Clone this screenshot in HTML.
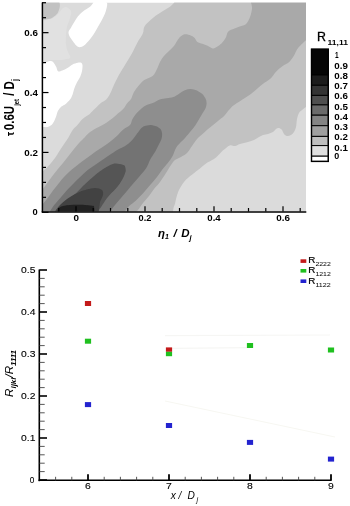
<!DOCTYPE html>
<html><head><meta charset="utf-8"><style>
html,body{margin:0;padding:0;background:#fff;}
svg{display:block;will-change:transform;font-family:"Liberation Sans",sans-serif;}
</style></head><body>
<svg width="350" height="506" viewBox="0 0 350 506">
<rect width="350" height="506" fill="#fff"/>
<defs><clipPath id="pc"><rect x="42" y="2.5" width="264" height="209"/></clipPath><filter id="bl" x="0" y="0" width="1" height="1"><feGaussianBlur stdDeviation="0.7"/></filter></defs><g clip-path="url(#pc)"><g filter="url(#bl)"><rect x="42" y="2.5" width="264" height="209.0" fill="#dbdbdb"/><path d="M174.3,2.5 C173.4,3.4 171.3,5.8 168.8,7.6 C166.3,9.4 162.3,11.3 159.5,13.2 C156.7,15.0 154.5,16.5 152.0,18.7 C149.5,20.9 146.1,23.7 144.6,26.2 C143.1,28.7 144.0,30.8 142.8,33.6 C141.6,36.4 139.1,39.5 137.2,42.9 C135.3,46.3 133.5,50.6 131.6,54.0 C129.7,57.4 127.9,60.2 126.0,63.3 C124.1,66.4 121.8,70.2 120.4,72.6 C119.0,75.0 118.5,75.9 117.4,77.9 C116.3,79.9 115.1,82.2 114.0,84.7 C112.9,87.2 111.7,90.5 110.6,92.7 C109.5,94.9 108.5,96.7 107.5,98.0 C106.5,99.3 106.1,99.6 104.9,100.5 C103.7,101.4 102.0,102.0 100.3,103.4 C98.6,104.8 96.3,107.4 94.6,109.1 C92.9,110.8 91.3,112.5 90.0,113.7 C88.7,114.9 87.9,115.0 86.6,116.0 C85.3,117.0 83.5,117.9 82.0,119.4 C80.5,120.9 78.9,123.4 77.4,125.1 C75.9,126.8 74.4,127.6 72.9,129.7 C71.4,131.8 69.8,135.2 68.3,137.7 C66.8,140.2 65.2,142.3 63.7,144.6 C62.2,146.9 60.6,149.2 59.1,151.4 C57.6,153.6 56.4,156.1 55.0,158.0 C53.6,159.9 52.5,161.2 51.0,163.0 C49.5,164.8 47.5,167.0 46.0,168.5 C44.5,170.0 42.7,171.4 42.0,172.0 L30.0,180.0 L30.0,225.0 L173.0,225.0 L173.0,211.5 C173.1,210.8 173.4,208.6 173.7,207.3 C174.0,206.0 174.5,205.4 175.0,203.7 C175.5,201.9 175.9,199.1 176.6,196.8 C177.3,194.5 177.8,192.4 179.0,190.0 C180.2,187.6 182.3,184.3 184.0,182.1 C185.7,179.9 187.1,178.7 189.0,177.0 C190.9,175.3 193.6,173.3 195.4,171.9 C197.2,170.5 198.0,170.0 200.0,168.4 C202.0,166.8 204.7,164.4 207.4,162.6 C210.1,160.8 213.4,159.4 216.0,157.4 C218.6,155.4 220.5,152.6 222.8,150.6 C225.1,148.6 227.7,146.2 229.7,145.4 C231.7,144.6 233.3,146.2 235.0,146.0 C236.7,145.8 237.8,144.7 240.0,144.0 C242.2,143.3 245.7,142.7 248.0,142.0 C250.3,141.3 252.2,140.8 254.0,140.0 C255.8,139.2 257.5,137.8 259.0,137.0 C260.5,136.2 261.5,135.5 263.0,135.0 C264.5,134.5 266.3,134.5 268.0,134.0 C269.7,133.5 271.7,132.8 273.0,132.0 C274.3,131.2 275.0,129.7 276.0,129.0 C277.0,128.3 278.0,127.8 279.0,128.0 C280.0,128.2 281.2,129.0 282.0,130.0 C282.8,131.0 283.2,133.0 284.0,134.0 C284.8,135.0 285.8,135.8 287.0,136.0 C288.2,136.2 289.8,135.7 291.0,135.0 C292.2,134.3 293.2,133.3 294.0,132.0 C294.8,130.7 295.5,129.2 296.0,127.0 C296.5,124.8 296.5,121.3 297.0,119.0 C297.5,116.7 298.2,114.5 299.0,113.0 C299.8,111.5 300.8,111.0 302.0,110.0 C303.2,109.0 305.3,107.5 306.0,107.0 L320.0,107.0 L320.0,-5.0 L174.3,-5.0Z" fill="#c2c2c2"/><path d="M42.0,21.0 C42.8,20.8 45.2,20.5 47.0,20.0 C48.8,19.5 51.2,19.0 53.0,18.0 C54.8,17.0 56.5,15.5 58.0,14.0 C59.5,12.5 60.7,10.2 62.0,9.0 C63.3,7.8 64.5,6.7 66.0,7.0 C67.5,7.3 70.3,9.2 71.0,11.0 C71.7,12.8 70.7,15.3 70.0,18.0 C69.3,20.7 67.7,24.2 67.0,27.0 C66.3,29.8 66.2,32.0 66.0,35.0 C65.8,38.0 65.7,42.2 66.0,45.0 C66.3,47.8 67.3,49.8 68.0,52.0 C68.7,54.2 71.3,56.7 70.0,58.0 C68.7,59.3 63.0,59.7 60.0,60.0 C57.0,60.3 54.3,59.8 52.0,60.0 C49.7,60.2 47.7,60.5 46.0,61.0 C44.3,61.5 42.7,62.7 42.0,63.0 L30.0,63.0 L30.0,21.0Z" fill="#e1e1e1"/><path d="M59.4,2.5 C59.5,2.9 59.9,4.1 59.9,5.1 C59.9,6.1 59.8,7.3 59.4,8.6 C59.0,9.9 58.6,11.6 57.7,12.9 C56.9,14.2 55.4,15.4 54.3,16.3 C53.2,17.2 52.2,17.9 50.9,18.4 C49.6,18.9 48.1,19.1 46.6,19.3 C45.1,19.5 42.8,19.6 42.0,19.7 L30.0,19.7 L30.0,-5.0 L59.4,-5.0Z" fill="#c2c2c2"/><path d="M93.4,2.5 C93.0,3.1 91.9,5.0 90.9,6.0 C89.9,7.0 88.8,7.6 87.4,8.6 C86.0,9.6 83.9,10.7 82.3,12.0 C80.7,13.3 79.3,14.7 78.0,16.3 C76.7,17.9 75.8,19.5 74.6,21.4 C73.4,23.2 72.1,25.7 71.1,27.4 C70.1,29.1 68.9,30.3 68.6,31.7 C68.3,33.1 68.7,34.4 69.4,36.0 C70.1,37.6 71.8,39.6 72.9,41.2 C74.1,42.8 75.2,44.5 76.3,45.5 C77.4,46.5 78.4,47.2 79.7,47.2 C81.0,47.2 82.6,46.5 84.0,45.5 C85.4,44.5 87.0,42.6 88.3,41.2 C89.6,39.8 90.5,38.5 91.7,36.9 C92.9,35.3 94.1,33.6 95.2,31.7 C96.3,29.8 97.5,27.7 98.6,25.7 C99.7,23.7 101.0,21.7 102.0,19.7 C103.0,17.7 104.1,15.7 104.9,13.7 C105.7,11.7 106.3,9.4 106.7,7.7 C107.1,6.0 107.3,4.3 107.2,3.4 C107.1,2.5 106.5,2.6 106.3,2.5 L106.3,-5.0 L93.4,-5.0Z" fill="#ffffff"/><path d="M42.0,64.0 C42.2,63.9 42.6,64.0 43.4,63.6 C44.2,63.2 45.6,62.3 46.9,61.9 C48.2,61.5 50.0,60.9 51.1,61.0 C52.2,61.1 52.8,61.7 53.7,62.7 C54.6,63.7 55.6,65.6 56.3,67.0 C57.0,68.4 57.0,70.7 58.0,71.3 C59.0,71.9 60.7,71.0 62.3,70.4 C63.9,69.8 65.7,68.9 67.4,67.9 C69.1,66.9 70.9,65.3 72.6,64.4 C74.3,63.5 76.3,63.0 77.7,62.7 C79.1,62.4 80.4,62.3 81.2,62.7 C82.0,63.1 82.4,63.9 82.5,65.3 C82.6,66.7 82.4,69.4 82.0,71.3 C81.6,73.2 81.1,74.6 80.3,76.4 C79.5,78.2 77.9,80.4 76.9,82.4 C75.9,84.4 75.0,86.4 74.3,88.4 C73.6,90.4 73.3,92.6 72.6,94.5 C71.9,96.4 71.2,98.0 70.0,99.6 C68.8,101.2 67.1,102.8 65.7,103.9 C64.3,105.1 62.7,105.4 61.4,106.5 C60.1,107.6 58.9,109.1 58.0,110.7 C57.1,112.3 57.0,114.0 56.3,115.9 C55.6,117.8 54.6,120.3 53.7,121.9 C52.8,123.5 52.1,124.5 51.1,125.3 C50.1,126.1 49.0,126.7 47.7,127.0 C46.4,127.3 44.4,127.0 43.4,127.0 C42.4,127.0 42.2,127.0 42.0,127.0 L30.0,127.0 L30.0,64.0Z" fill="#ffffff"/><path d="M251.0,2.5 C251.2,3.5 252.2,6.1 252.0,8.5 C251.8,10.9 251.0,14.4 250.0,17.0 C249.0,19.6 247.8,22.4 246.1,24.0 C244.4,25.6 241.8,25.8 239.7,26.6 C237.6,27.5 235.2,28.2 233.3,29.1 C231.4,30.0 229.4,30.2 228.1,31.7 C226.8,33.2 226.7,36.2 225.6,38.1 C224.5,40.0 223.2,41.8 221.7,43.3 C220.2,44.8 218.1,46.2 216.6,47.1 C215.1,48.0 214.2,48.6 212.7,48.4 C211.2,48.2 209.3,46.6 207.6,45.8 C205.9,45.0 204.1,44.4 202.4,43.8 C200.7,43.2 198.6,43.0 197.3,42.0 C196.0,41.0 195.8,39.2 194.7,38.1 C193.6,37.0 192.3,36.2 190.8,35.6 C189.3,35.0 187.2,34.3 185.7,34.3 C184.2,34.3 183.2,34.8 181.9,35.6 C180.6,36.5 179.3,37.7 178.0,39.4 C176.7,41.1 175.6,43.9 174.1,45.8 C172.6,47.7 170.7,49.3 169.0,51.0 C167.3,52.7 165.4,54.3 163.9,56.1 C162.4,57.9 161.2,59.9 160.0,62.0 C158.8,64.2 158.2,66.7 157.0,69.0 C155.8,71.3 155.0,73.9 152.9,75.7 C150.8,77.5 146.7,78.3 144.3,80.0 C141.9,81.7 140.3,83.7 138.6,85.7 C136.9,87.7 135.3,89.8 134.0,92.0 C132.7,94.2 132.2,97.1 131.0,99.0 C129.8,100.9 128.3,101.8 127.0,103.5 C125.7,105.2 124.9,107.2 123.1,109.1 C121.3,111.0 118.6,113.0 116.3,114.9 C114.0,116.8 111.7,118.9 109.4,120.6 C107.1,122.3 104.9,123.8 102.6,125.1 C100.3,126.4 98.0,127.3 95.7,128.6 C93.4,129.9 90.8,131.6 88.9,133.1 C87.0,134.6 85.8,136.2 84.3,137.7 C82.8,139.2 81.4,140.4 79.7,142.3 C78.0,144.2 75.9,146.7 74.0,149.0 C72.1,151.3 70.3,153.7 68.5,156.0 C66.7,158.3 64.8,160.8 63.0,163.0 C61.2,165.2 59.3,167.2 57.5,169.5 C55.7,171.8 53.8,174.2 52.0,176.5 C50.2,178.8 48.7,181.2 47.0,183.5 C45.3,185.8 42.8,188.9 42.0,190.0 L30.0,190.0 L30.0,225.0 L136.0,225.0 L136.0,211.5 C136.3,211.2 136.8,211.4 138.0,210.0 C139.2,208.6 141.2,205.3 143.0,203.0 C144.8,200.7 147.2,198.3 149.0,196.0 C150.8,193.7 152.2,191.3 154.0,189.0 C155.8,186.7 158.0,184.7 160.0,182.0 C162.0,179.3 164.2,175.8 166.0,173.0 C167.8,170.2 169.5,167.2 171.0,165.0 C172.5,162.8 173.3,161.3 175.0,160.0 C176.7,158.7 179.0,158.2 181.0,157.0 C183.0,155.8 185.2,154.8 187.0,153.0 C188.8,151.2 190.3,148.3 192.0,146.0 C193.7,143.7 195.1,141.2 197.0,139.0 C198.9,136.8 201.4,134.9 203.7,132.9 C206.0,130.9 208.3,129.0 210.6,127.1 C212.9,125.2 215.1,123.3 217.4,121.4 C219.7,119.5 222.4,117.6 224.3,115.7 C226.2,113.8 227.4,111.7 228.9,110.0 C230.4,108.3 231.5,106.9 233.4,105.4 C235.3,103.9 237.6,102.6 240.3,100.9 C243.0,99.2 246.7,97.0 249.4,95.1 C252.1,93.2 254.0,91.3 256.3,89.4 C258.6,87.5 260.8,85.4 263.1,83.7 C265.4,82.0 267.8,81.1 270.0,79.1 C272.2,77.0 274.1,73.6 276.3,71.4 C278.5,69.2 281.0,67.2 283.1,65.7 C285.2,64.2 287.2,63.8 288.9,62.3 C290.6,60.8 292.1,58.7 293.4,56.6 C294.7,54.5 295.9,51.4 296.9,49.7 C297.9,48.0 298.3,47.7 299.4,46.5 C300.5,45.3 302.6,43.3 303.7,42.3 C304.8,41.2 305.6,40.6 306.0,40.2 L320.0,40.2 L320.0,-5.0 L251.0,-5.0Z" fill="#a9a9a9"/><path d="M196.3,90.3 C195.4,90.1 192.5,89.1 190.6,89.1 C188.7,89.1 186.8,89.5 184.9,90.3 C183.0,91.1 181.0,92.6 179.1,93.7 C177.2,94.8 175.5,96.3 173.4,97.1 C171.3,97.9 168.9,97.9 166.6,98.3 C164.3,98.7 162.0,98.6 159.7,99.4 C157.4,100.2 155.1,102.0 152.9,102.9 C150.7,103.8 148.5,104.1 146.6,105.0 C144.7,105.9 143.2,107.0 141.5,108.4 C139.8,109.8 137.8,111.8 136.3,113.6 C134.8,115.4 133.6,117.1 132.5,119.0 C131.4,120.9 131.6,123.3 130.0,125.1 C128.4,126.9 125.4,127.8 123.1,129.7 C120.8,131.6 118.6,134.5 116.3,136.6 C114.0,138.7 111.7,140.6 109.4,142.3 C107.1,144.0 104.9,145.4 102.6,146.9 C100.3,148.4 98.0,149.8 95.7,151.4 C93.4,153.0 91.3,154.8 89.0,156.5 C86.7,158.2 84.3,159.8 82.0,161.5 C79.7,163.2 77.2,165.2 75.0,167.0 C72.8,168.8 70.8,170.3 69.0,172.0 C67.2,173.7 65.7,175.2 64.0,177.0 C62.3,178.8 60.8,180.8 59.0,183.0 C57.2,185.2 55.3,187.5 53.4,190.0 C51.5,192.5 49.6,195.5 47.7,198.0 C45.8,200.5 43.0,203.8 42.0,204.9 L30.0,205.0 L30.0,225.0 L125.0,225.0 L125.0,211.5 C125.7,210.6 127.3,207.9 129.1,206.1 C130.9,204.2 133.7,202.5 136.0,200.4 C138.3,198.3 140.6,196.1 142.9,193.6 C145.2,191.1 147.4,188.3 149.7,185.6 C152.0,182.9 154.5,180.3 156.6,177.6 C158.7,174.9 160.4,172.1 162.3,169.6 C164.2,167.1 166.3,165.0 168.0,162.7 C169.7,160.4 171.3,158.3 172.6,155.9 C173.9,153.5 174.8,150.2 176.0,148.0 C177.2,145.8 178.5,144.7 180.0,143.0 C181.5,141.3 183.1,140.2 185.0,138.0 C186.9,135.8 190.0,132.1 191.7,130.0 C193.4,128.0 193.9,127.4 195.1,125.7 C196.2,124.0 197.4,121.9 198.6,120.0 C199.8,118.1 200.9,116.2 202.0,114.3 C203.1,112.4 204.6,110.5 205.4,108.6 C206.2,106.7 206.6,104.6 206.6,102.9 C206.6,101.2 206.2,99.8 205.4,98.3 C204.6,96.8 203.5,95.0 202.0,93.7 C200.5,92.4 197.2,90.9 196.3,90.3Z" fill="#8e8e8e"/><path d="M151.4,125.0 C150.4,125.1 147.4,125.2 145.7,125.7 C144.0,126.2 142.8,126.6 141.4,127.9 C140.0,129.2 138.5,131.7 137.1,133.6 C135.7,135.5 134.3,137.6 132.9,139.3 C131.5,141.0 130.0,142.4 128.6,143.6 C127.2,144.8 125.9,145.5 124.3,146.4 C122.7,147.3 121.2,147.7 119.0,149.0 C116.8,150.3 113.7,152.2 111.0,154.0 C108.3,155.8 105.7,157.7 103.0,159.5 C100.3,161.3 97.5,163.2 95.0,165.0 C92.5,166.8 90.0,168.1 87.7,170.0 C85.4,171.9 83.2,174.1 80.9,176.3 C78.6,178.5 76.3,180.8 74.0,183.1 C71.7,185.4 69.4,187.5 67.1,190.0 C64.8,192.5 62.6,195.3 60.3,198.0 C58.0,200.7 55.1,203.8 53.4,206.0 C51.7,208.2 50.6,210.6 50.0,211.5 L50.0,225.0 L110.0,225.0 L110.0,211.5 C110.8,210.4 113.2,207.2 115.0,205.0 C116.8,202.8 119.0,200.3 121.0,198.0 C123.0,195.7 124.9,193.5 127.0,191.0 C129.1,188.5 131.4,185.7 133.7,183.0 C136.0,180.3 138.5,177.5 140.6,175.0 C142.7,172.5 144.7,170.5 146.3,168.0 C147.9,165.5 148.9,162.2 150.0,160.0 C151.1,157.8 152.1,156.6 153.0,155.0 C153.9,153.4 154.8,152.4 155.7,150.7 C156.6,149.0 157.6,146.9 158.6,145.0 C159.6,143.1 160.8,141.2 161.4,139.3 C162.0,137.4 162.2,135.3 162.1,133.6 C162.0,131.9 161.5,130.5 160.7,129.3 C159.9,128.1 157.7,126.9 157.1,126.4Z" fill="#737373"/><path d="M124.9,165.7 C124.0,165.4 121.7,164.3 119.7,164.0 C117.7,163.7 115.5,163.2 112.9,164.0 C110.3,164.8 106.7,166.9 104.0,168.5 C101.3,170.1 99.3,171.7 97.0,173.5 C94.7,175.3 92.3,177.4 90.0,179.5 C87.7,181.6 85.3,183.8 83.0,186.0 C80.7,188.2 78.6,190.7 76.3,193.0 C74.0,195.3 71.5,197.8 69.4,200.0 C67.4,202.2 65.6,204.6 64.0,206.0 C62.4,207.4 61.0,207.8 60.0,208.5 C59.0,209.2 58.5,209.5 58.0,210.0 C57.5,210.5 57.2,211.2 57.0,211.5 L57.0,225.0 L97.4,225.0 L97.4,211.5 C97.8,211.0 99.0,209.9 100.0,208.6 C101.0,207.3 102.2,205.2 103.4,203.5 C104.6,201.8 105.6,200.0 106.9,198.3 C108.2,196.6 109.8,194.8 111.2,193.2 C112.6,191.6 114.1,190.5 115.5,188.9 C116.9,187.3 118.4,185.6 119.7,183.7 C121.0,181.8 122.2,179.8 123.2,177.7 C124.2,175.6 125.4,172.9 125.7,170.9 C126.0,168.9 125.0,166.6 124.9,165.7Z" fill="#555555"/><path d="M55.0,211.5 C55.8,210.4 58.0,207.1 60.0,205.0 C62.0,202.9 64.5,200.8 67.0,199.0 C69.5,197.2 72.0,195.5 75.0,194.0 C78.0,192.5 81.7,191.0 85.0,190.0 C88.3,189.0 92.2,188.0 95.0,188.0 C97.8,188.0 100.7,188.8 102.0,190.0 C103.3,191.2 103.3,193.0 103.0,195.0 C102.7,197.0 100.5,200.8 100.0,202.0 L97.0,225.0 L55.0,225.0Z" fill="#424242"/><path d="M57.0,211.5 C57.5,210.8 57.8,208.1 60.0,207.0 C62.2,205.9 65.8,205.3 70.0,205.0 C74.2,204.7 81.0,204.8 85.0,205.0 C89.0,205.2 92.5,205.8 94.0,206.0 L96.0,225.0 L57.0,225.0Z" fill="#222222"/></g></g><line x1="42.4" y1="2.5" x2="42.4" y2="212.3" stroke="#000" stroke-width="1.5"/><line x1="41.7" y1="211.9" x2="306.3" y2="211.9" stroke="#000" stroke-width="1.5"/><line x1="42" y1="212.3" x2="48.5" y2="212.3" stroke="#000" stroke-width="1.2"/><line x1="42" y1="197.33" x2="46" y2="197.33" stroke="#000" stroke-width="1.2"/><line x1="42" y1="182.36" x2="46" y2="182.36" stroke="#000" stroke-width="1.2"/><line x1="42" y1="167.39" x2="46" y2="167.39" stroke="#000" stroke-width="1.2"/><line x1="42" y1="152.42" x2="48.5" y2="152.42" stroke="#000" stroke-width="1.2"/><line x1="42" y1="137.45" x2="46" y2="137.45" stroke="#000" stroke-width="1.2"/><line x1="42" y1="122.48" x2="46" y2="122.48" stroke="#000" stroke-width="1.2"/><line x1="42" y1="107.51" x2="46" y2="107.51" stroke="#000" stroke-width="1.2"/><line x1="42" y1="92.54" x2="48.5" y2="92.54" stroke="#000" stroke-width="1.2"/><line x1="42" y1="77.57" x2="46" y2="77.57" stroke="#000" stroke-width="1.2"/><line x1="42" y1="62.6" x2="46" y2="62.6" stroke="#000" stroke-width="1.2"/><line x1="42" y1="47.63" x2="46" y2="47.63" stroke="#000" stroke-width="1.2"/><line x1="42" y1="32.66" x2="48.5" y2="32.66" stroke="#000" stroke-width="1.2"/><line x1="42" y1="17.69" x2="46" y2="17.69" stroke="#000" stroke-width="1.2"/><line x1="42" y1="2.72" x2="46" y2="2.72" stroke="#000" stroke-width="1.2"/><line x1="58.8" y1="211.6" x2="58.8" y2="208" stroke="#000" stroke-width="1.2"/><line x1="76.0" y1="211.6" x2="76.0" y2="206.2" stroke="#000" stroke-width="1.2"/><line x1="93.2" y1="211.6" x2="93.2" y2="208" stroke="#000" stroke-width="1.2"/><line x1="110.5" y1="211.6" x2="110.5" y2="208" stroke="#000" stroke-width="1.2"/><line x1="127.8" y1="211.6" x2="127.8" y2="208" stroke="#000" stroke-width="1.2"/><line x1="145.0" y1="211.6" x2="145.0" y2="206.2" stroke="#000" stroke-width="1.2"/><line x1="162.2" y1="211.6" x2="162.2" y2="208" stroke="#000" stroke-width="1.2"/><line x1="179.5" y1="211.6" x2="179.5" y2="208" stroke="#000" stroke-width="1.2"/><line x1="196.8" y1="211.6" x2="196.8" y2="208" stroke="#000" stroke-width="1.2"/><line x1="214.0" y1="211.6" x2="214.0" y2="206.2" stroke="#000" stroke-width="1.2"/><line x1="231.2" y1="211.6" x2="231.2" y2="208" stroke="#000" stroke-width="1.2"/><line x1="248.5" y1="211.6" x2="248.5" y2="208" stroke="#000" stroke-width="1.2"/><line x1="265.8" y1="211.6" x2="265.8" y2="208" stroke="#000" stroke-width="1.2"/><line x1="283.0" y1="211.6" x2="283.0" y2="206.2" stroke="#000" stroke-width="1.2"/><line x1="300.2" y1="211.6" x2="300.2" y2="208" stroke="#000" stroke-width="1.2"/><text x="24.3" y="36.1" font-size="9" text-anchor="start" font-weight="bold" font-style="normal" textLength="13.6" lengthAdjust="spacingAndGlyphs">0.6</text><text x="24.3" y="96.1" font-size="9" text-anchor="start" font-weight="bold" font-style="normal" textLength="13.6" lengthAdjust="spacingAndGlyphs">0.4</text><text x="24.3" y="156.1" font-size="9" text-anchor="start" font-weight="bold" font-style="normal" textLength="13.6" lengthAdjust="spacingAndGlyphs">0.2</text><text x="32.6" y="215.2" font-size="9" text-anchor="start" font-weight="bold" font-style="normal" textLength="5.2" lengthAdjust="spacingAndGlyphs">0</text><text x="73.6" y="221" font-size="8.4" text-anchor="start" font-weight="bold" font-style="normal" textLength="5.5" lengthAdjust="spacingAndGlyphs">0</text><text x="138.6" y="221" font-size="8.4" text-anchor="start" font-weight="bold" font-style="normal" textLength="12.8" lengthAdjust="spacingAndGlyphs">0.2</text><text x="207.3" y="221" font-size="8.4" text-anchor="start" font-weight="bold" font-style="normal" textLength="13.4" lengthAdjust="spacingAndGlyphs">0.4</text><text x="276.3" y="221" font-size="8.4" text-anchor="start" font-weight="bold" font-style="normal" textLength="13.7" lengthAdjust="spacingAndGlyphs">0.6</text><text y="236.8" font-size="11.5" font-weight="bold" font-style="italic"><tspan x="158">&#951;</tspan><tspan x="165" y="238.6" font-size="7">1</tspan><tspan x="173.6" y="236.6">/</tspan><tspan x="181.2" y="237.1">D</tspan><tspan x="189.6" y="239.5" font-size="7.5">j</tspan></text><g transform="translate(13.6,135.9) rotate(-90)"><text x="0" y="0" font-size="14" font-weight="bold" textLength="56.8" lengthAdjust="spacingAndGlyphs"><tspan font-size="11.5">&#964;</tspan><tspan dx="1.8">0.6U</tspan><tspan font-size="7.2" dy="5">jet</tspan><tspan dy="-5"> / D</tspan><tspan font-size="8.5" dy="4.5">j</tspan></text></g><rect x="311.5" y="49.2" width="16.80000000000001" height="25.799999999999997" fill="#050505" stroke="#000" stroke-width="1"/><rect x="311.5" y="75" width="16.80000000000001" height="10.299999999999997" fill="#1c1c1c" stroke="#000" stroke-width="1"/><rect x="311.5" y="85.3" width="16.80000000000001" height="10.100000000000009" fill="#343434" stroke="#000" stroke-width="1"/><rect x="311.5" y="95.4" width="16.80000000000001" height="9.5" fill="#4f4f4f" stroke="#000" stroke-width="1"/><rect x="311.5" y="104.9" width="16.80000000000001" height="10.299999999999997" fill="#6b6b6b" stroke="#000" stroke-width="1"/><rect x="311.5" y="115.2" width="16.80000000000001" height="10.5" fill="#848484" stroke="#000" stroke-width="1"/><rect x="311.5" y="125.7" width="16.80000000000001" height="10.700000000000003" fill="#9f9f9f" stroke="#000" stroke-width="1"/><rect x="311.5" y="136.4" width="16.80000000000001" height="9.199999999999989" fill="#bebebe" stroke="#000" stroke-width="1"/><rect x="311.5" y="145.6" width="16.80000000000001" height="10.599999999999994" fill="#dfdfdf" stroke="#000" stroke-width="1"/><rect x="311.5" y="156.2" width="16.80000000000001" height="5.200000000000017" fill="#ffffff" stroke="#000" stroke-width="1"/><rect x="311.5" y="49.2" width="16.80000000000001" height="112.2" fill="none" stroke="#000" stroke-width="1.4"/><text x="335" y="57.6" font-size="8.6" text-anchor="start" font-weight="bold" font-style="normal" textLength="3.6" lengthAdjust="spacingAndGlyphs">1</text><text x="334.3" y="68.7" font-size="8.6" text-anchor="start" font-weight="bold" font-style="normal" textLength="13.6" lengthAdjust="spacingAndGlyphs">0.9</text><text x="334.3" y="78.9" font-size="8.6" text-anchor="start" font-weight="bold" font-style="normal" textLength="13.6" lengthAdjust="spacingAndGlyphs">0.8</text><text x="334.3" y="89" font-size="8.6" text-anchor="start" font-weight="bold" font-style="normal" textLength="13.6" lengthAdjust="spacingAndGlyphs">0.7</text><text x="334.3" y="99.2" font-size="8.6" text-anchor="start" font-weight="bold" font-style="normal" textLength="13.6" lengthAdjust="spacingAndGlyphs">0.6</text><text x="334.3" y="109.5" font-size="8.6" text-anchor="start" font-weight="bold" font-style="normal" textLength="13.6" lengthAdjust="spacingAndGlyphs">0.5</text><text x="334.3" y="119.8" font-size="8.6" text-anchor="start" font-weight="bold" font-style="normal" textLength="13.6" lengthAdjust="spacingAndGlyphs">0.4</text><text x="334.3" y="130" font-size="8.6" text-anchor="start" font-weight="bold" font-style="normal" textLength="13.6" lengthAdjust="spacingAndGlyphs">0.3</text><text x="334.3" y="140.4" font-size="8.6" text-anchor="start" font-weight="bold" font-style="normal" textLength="13.6" lengthAdjust="spacingAndGlyphs">0.2</text><text x="334.3" y="150.6" font-size="8.6" text-anchor="start" font-weight="bold" font-style="normal" textLength="13.6" lengthAdjust="spacingAndGlyphs">0.1</text><text x="334.3" y="159.4" font-size="8.6" text-anchor="start" font-weight="bold" font-style="normal" textLength="5" lengthAdjust="spacingAndGlyphs">0</text><text x="317" y="41.1" font-size="12.4" stroke="#000" stroke-width="0.3">R</text><text x="327.5" y="44.9" font-size="7" text-anchor="start" font-weight="bold" font-style="normal" textLength="20.5" lengthAdjust="spacingAndGlyphs">11,11</text><line x1="39.3" y1="269.5" x2="39.3" y2="481.2" stroke="#000" stroke-width="1.6"/><line x1="38.5" y1="480.3" x2="331.5" y2="480.3" stroke="#000" stroke-width="1.5"/><line x1="39.5" y1="480.0" x2="47" y2="480.0" stroke="#000" stroke-width="1.6"/><line x1="39.5" y1="471.6" x2="44.7" y2="471.6" stroke="#444" stroke-width="0.9"/><line x1="39.5" y1="463.2" x2="44.7" y2="463.2" stroke="#444" stroke-width="0.9"/><line x1="39.5" y1="454.8" x2="44.7" y2="454.8" stroke="#444" stroke-width="0.9"/><line x1="39.5" y1="446.4" x2="44.7" y2="446.4" stroke="#444" stroke-width="0.9"/><line x1="39.5" y1="438.0" x2="47" y2="438.0" stroke="#000" stroke-width="1.6"/><line x1="39.5" y1="429.6" x2="44.7" y2="429.6" stroke="#444" stroke-width="0.9"/><line x1="39.5" y1="421.2" x2="44.7" y2="421.2" stroke="#444" stroke-width="0.9"/><line x1="39.5" y1="412.8" x2="44.7" y2="412.8" stroke="#444" stroke-width="0.9"/><line x1="39.5" y1="404.4" x2="44.7" y2="404.4" stroke="#444" stroke-width="0.9"/><line x1="39.5" y1="396.0" x2="47" y2="396.0" stroke="#000" stroke-width="1.6"/><line x1="39.5" y1="387.6" x2="44.7" y2="387.6" stroke="#444" stroke-width="0.9"/><line x1="39.5" y1="379.2" x2="44.7" y2="379.2" stroke="#444" stroke-width="0.9"/><line x1="39.5" y1="370.8" x2="44.7" y2="370.8" stroke="#444" stroke-width="0.9"/><line x1="39.5" y1="362.4" x2="44.7" y2="362.4" stroke="#444" stroke-width="0.9"/><line x1="39.5" y1="354.0" x2="47" y2="354.0" stroke="#000" stroke-width="1.6"/><line x1="39.5" y1="345.6" x2="44.7" y2="345.6" stroke="#444" stroke-width="0.9"/><line x1="39.5" y1="337.2" x2="44.7" y2="337.2" stroke="#444" stroke-width="0.9"/><line x1="39.5" y1="328.8" x2="44.7" y2="328.8" stroke="#444" stroke-width="0.9"/><line x1="39.5" y1="320.4" x2="44.7" y2="320.4" stroke="#444" stroke-width="0.9"/><line x1="39.5" y1="312.0" x2="47" y2="312.0" stroke="#000" stroke-width="1.6"/><line x1="39.5" y1="303.6" x2="44.7" y2="303.6" stroke="#444" stroke-width="0.9"/><line x1="39.5" y1="295.2" x2="44.7" y2="295.2" stroke="#444" stroke-width="0.9"/><line x1="39.5" y1="286.8" x2="44.7" y2="286.8" stroke="#444" stroke-width="0.9"/><line x1="39.5" y1="278.4" x2="44.7" y2="278.4" stroke="#444" stroke-width="0.9"/><line x1="39.5" y1="270.0" x2="47" y2="270.0" stroke="#000" stroke-width="1.6"/><line x1="55.6" y1="480.4" x2="55.6" y2="476.8" stroke="#444" stroke-width="0.9"/><line x1="71.8" y1="480.4" x2="71.8" y2="476.8" stroke="#444" stroke-width="0.9"/><line x1="88.0" y1="480.4" x2="88.0" y2="474.2" stroke="#000" stroke-width="1.8"/><line x1="104.2" y1="480.4" x2="104.2" y2="476.8" stroke="#444" stroke-width="0.9"/><line x1="120.4" y1="480.4" x2="120.4" y2="476.8" stroke="#444" stroke-width="0.9"/><line x1="136.6" y1="480.4" x2="136.6" y2="476.8" stroke="#444" stroke-width="0.9"/><line x1="152.8" y1="480.4" x2="152.8" y2="476.8" stroke="#444" stroke-width="0.9"/><line x1="169.0" y1="480.4" x2="169.0" y2="474.2" stroke="#000" stroke-width="1.8"/><line x1="185.2" y1="480.4" x2="185.2" y2="476.8" stroke="#444" stroke-width="0.9"/><line x1="201.4" y1="480.4" x2="201.4" y2="476.8" stroke="#444" stroke-width="0.9"/><line x1="217.6" y1="480.4" x2="217.6" y2="476.8" stroke="#444" stroke-width="0.9"/><line x1="233.8" y1="480.4" x2="233.8" y2="476.8" stroke="#444" stroke-width="0.9"/><line x1="250.0" y1="480.4" x2="250.0" y2="474.2" stroke="#000" stroke-width="1.8"/><line x1="266.2" y1="480.4" x2="266.2" y2="476.8" stroke="#444" stroke-width="0.9"/><line x1="282.4" y1="480.4" x2="282.4" y2="476.8" stroke="#444" stroke-width="0.9"/><line x1="298.6" y1="480.4" x2="298.6" y2="476.8" stroke="#444" stroke-width="0.9"/><line x1="314.8" y1="480.4" x2="314.8" y2="476.8" stroke="#444" stroke-width="0.9"/><line x1="331.0" y1="480.4" x2="331.0" y2="474.2" stroke="#000" stroke-width="1.8"/><text x="21.1" y="273.1" font-size="8.4" text-anchor="start" font-weight="normal" font-style="normal" textLength="14.4" lengthAdjust="spacingAndGlyphs" stroke="#000" stroke-width="0.1">0.5</text><text x="21.1" y="315.1" font-size="8.4" text-anchor="start" font-weight="normal" font-style="normal" textLength="14.4" lengthAdjust="spacingAndGlyphs" stroke="#000" stroke-width="0.1">0.4</text><text x="21.1" y="357.1" font-size="8.4" text-anchor="start" font-weight="normal" font-style="normal" textLength="14.4" lengthAdjust="spacingAndGlyphs" stroke="#000" stroke-width="0.1">0.3</text><text x="21.1" y="399.1" font-size="8.4" text-anchor="start" font-weight="normal" font-style="normal" textLength="14.4" lengthAdjust="spacingAndGlyphs" stroke="#000" stroke-width="0.1">0.2</text><text x="21.1" y="441.1" font-size="8.4" text-anchor="start" font-weight="normal" font-style="normal" textLength="14.4" lengthAdjust="spacingAndGlyphs" stroke="#000" stroke-width="0.1">0.1</text><text x="29.7" y="483.2" font-size="8.4" text-anchor="start" font-weight="normal" font-style="normal" textLength="4.6" lengthAdjust="spacingAndGlyphs" stroke="#000" stroke-width="0.1">0</text><text x="85.1" y="488.9" font-size="8.4" text-anchor="start" font-weight="normal" font-style="normal" textLength="5.8" lengthAdjust="spacingAndGlyphs" stroke="#000" stroke-width="0.1">6</text><text x="166.1" y="488.9" font-size="8.4" text-anchor="start" font-weight="normal" font-style="normal" textLength="5.8" lengthAdjust="spacingAndGlyphs" stroke="#000" stroke-width="0.1">7</text><text x="247.1" y="488.9" font-size="8.4" text-anchor="start" font-weight="normal" font-style="normal" textLength="5.8" lengthAdjust="spacingAndGlyphs" stroke="#000" stroke-width="0.1">8</text><text x="328.1" y="488.9" font-size="8.4" text-anchor="start" font-weight="normal" font-style="normal" textLength="5.8" lengthAdjust="spacingAndGlyphs" stroke="#000" stroke-width="0.1">9</text><text y="498.6" font-size="10.2" font-style="italic"><tspan x="170.8">x</tspan><tspan x="178.6">/</tspan><tspan x="187.6">D</tspan><tspan x="196.4" y="501.5" font-size="7">j</tspan></text><g transform="translate(12.9,397) rotate(-90)"><text x="0" y="0" font-size="10" font-style="italic" textLength="47" lengthAdjust="spacingAndGlyphs">R<tspan font-size="6.8" dy="3.2" font-weight="bold">ijkl</tspan><tspan dy="-3.2">/R</tspan><tspan font-size="6.8" dy="3.2" font-weight="bold">1111</tspan></text></g><line x1="165" y1="335.6" x2="330" y2="335" stroke="#f6f6f4" stroke-width="1.2"/><line x1="172" y1="348.3" x2="250" y2="347.6" stroke="#f6f6f4" stroke-width="1.2"/><line x1="165" y1="401" x2="335" y2="437" stroke="#f7f7f2" stroke-width="1.2"/><rect x="84.9" y="301.0" width="6.2" height="5" fill="#c31a1a"/><rect x="84.9" y="338.7" width="6.2" height="5" fill="#1fc01f"/><rect x="84.9" y="402.1" width="6.2" height="5" fill="#2323cf"/><rect x="165.9" y="347.4" width="6.2" height="4.4" fill="#c31a1a"/><rect x="165.9" y="351.8" width="6.2" height="4.4" fill="#1fc01f"/><rect x="165.9" y="423.0" width="6.2" height="5" fill="#2323cf"/><rect x="246.9" y="343.0" width="6.2" height="5" fill="#1fc01f"/><rect x="246.9" y="439.9" width="6.2" height="5" fill="#2323cf"/><rect x="327.9" y="347.5" width="6.2" height="5" fill="#1fc01f"/><rect x="327.9" y="456.6" width="6.2" height="5" fill="#2323cf"/><rect x="300.5" y="259.3" width="5.8" height="3.6" fill="#c31a1a"/><rect x="300.5" y="269.0" width="5.8" height="3.6" fill="#1fc01f"/><rect x="300.5" y="279.4" width="5.8" height="3.6" fill="#2323cf"/><text x="308.2" y="263.1" font-size="9.8" stroke="#000" stroke-width="0.2">R</text><text x="315.4" y="266.3" font-size="6.2" text-anchor="start" font-weight="normal" font-style="normal" textLength="15.4" lengthAdjust="spacingAndGlyphs">2222</text><text x="308.2" y="273.1" font-size="9.8" stroke="#000" stroke-width="0.2">R</text><text x="315.4" y="276.3" font-size="6.2" text-anchor="start" font-weight="normal" font-style="normal" textLength="15.4" lengthAdjust="spacingAndGlyphs">1212</text><text x="308.2" y="283.5" font-size="9.8" stroke="#000" stroke-width="0.2">R</text><text x="315.4" y="286.7" font-size="6.2" text-anchor="start" font-weight="normal" font-style="normal" textLength="15.4" lengthAdjust="spacingAndGlyphs">1122</text>
</svg></body></html>
